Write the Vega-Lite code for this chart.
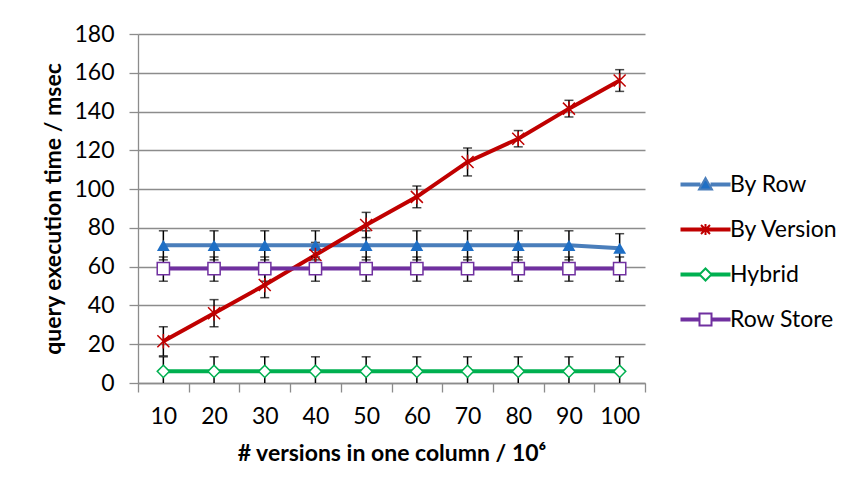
{
  "$schema": "https://vega.github.io/schema/vega-lite/v6.json",
  "width": 507,
  "height": 349,
  "autosize": {"type": "none"},
  "padding": {"left": 138, "top": 34, "right": 209, "bottom": 113},
  "background": "white",
  "config": {
    "view": {"stroke": null},
    "font": "Lato",
    "axis": {"labelFont": "Lato", "titleFont": "Lato", "labelColor": "#000", "titleColor": "#000"}
  },
  "data": {"values": [
    {"series": "By Row", "x": 10, "y": 71, "lo": 63.5, "hi": 78.5},
    {"series": "By Row", "x": 20, "y": 71, "lo": 63.5, "hi": 78.5},
    {"series": "By Row", "x": 30, "y": 71, "lo": 63.5, "hi": 78.5},
    {"series": "By Row", "x": 40, "y": 71, "lo": 63.5, "hi": 78.5},
    {"series": "By Row", "x": 50, "y": 71, "lo": 63.5, "hi": 78.5},
    {"series": "By Row", "x": 60, "y": 71, "lo": 63.5, "hi": 78.5},
    {"series": "By Row", "x": 70, "y": 71, "lo": 63.5, "hi": 78.5},
    {"series": "By Row", "x": 80, "y": 71, "lo": 63.5, "hi": 78.5},
    {"series": "By Row", "x": 90, "y": 71, "lo": 63.5, "hi": 78.5},
    {"series": "By Row", "x": 100, "y": 69.5, "lo": 62, "hi": 77},
    {"series": "By Version", "x": 10, "y": 21.5, "lo": 14, "hi": 29},
    {"series": "By Version", "x": 20, "y": 36, "lo": 29, "hi": 43},
    {"series": "By Version", "x": 30, "y": 50.5, "lo": 44, "hi": 57},
    {"series": "By Version", "x": 40, "y": 66, "lo": 59.5, "hi": 72.5},
    {"series": "By Version", "x": 50, "y": 81.5, "lo": 75, "hi": 88},
    {"series": "By Version", "x": 60, "y": 96, "lo": 90.4, "hi": 101.6},
    {"series": "By Version", "x": 70, "y": 114, "lo": 106.8, "hi": 121.2},
    {"series": "By Version", "x": 80, "y": 126, "lo": 121.8, "hi": 130.2},
    {"series": "By Version", "x": 90, "y": 141.5, "lo": 137.2, "hi": 145.8},
    {"series": "By Version", "x": 100, "y": 156, "lo": 150.4, "hi": 161.6},
    {"series": "Hybrid", "x": 10, "y": 6, "lo": -1.5, "hi": 13.5},
    {"series": "Hybrid", "x": 20, "y": 6, "lo": -1.5, "hi": 13.5},
    {"series": "Hybrid", "x": 30, "y": 6, "lo": -1.5, "hi": 13.5},
    {"series": "Hybrid", "x": 40, "y": 6, "lo": -1.5, "hi": 13.5},
    {"series": "Hybrid", "x": 50, "y": 6, "lo": -1.5, "hi": 13.5},
    {"series": "Hybrid", "x": 60, "y": 6, "lo": -1.5, "hi": 13.5},
    {"series": "Hybrid", "x": 70, "y": 6, "lo": -1.5, "hi": 13.5},
    {"series": "Hybrid", "x": 80, "y": 6, "lo": -1.5, "hi": 13.5},
    {"series": "Hybrid", "x": 90, "y": 6, "lo": -1.5, "hi": 13.5},
    {"series": "Hybrid", "x": 100, "y": 6, "lo": -1.5, "hi": 13.5},
    {"series": "Row Store", "x": 10, "y": 59, "lo": 52.5, "hi": 65},
    {"series": "Row Store", "x": 20, "y": 59, "lo": 52.5, "hi": 65},
    {"series": "Row Store", "x": 30, "y": 59, "lo": 52.5, "hi": 65},
    {"series": "Row Store", "x": 40, "y": 59, "lo": 52.5, "hi": 65},
    {"series": "Row Store", "x": 50, "y": 59, "lo": 52.5, "hi": 65},
    {"series": "Row Store", "x": 60, "y": 59, "lo": 52.5, "hi": 65},
    {"series": "Row Store", "x": 70, "y": 59, "lo": 52.5, "hi": 65},
    {"series": "Row Store", "x": 80, "y": 59, "lo": 52.5, "hi": 65},
    {"series": "Row Store", "x": 90, "y": 59, "lo": 52.5, "hi": 65},
    {"series": "Row Store", "x": 100, "y": 59, "lo": 52.5, "hi": 65}
  ]},
  "encoding": {
    "x": {
      "field": "x", "type": "quantitative",
      "scale": {"domain": [5, 105], "nice": false, "zero": false},
      "axis": {
        "values": [5, 10, 15, 20, 25, 30, 35, 40, 45, 50, 55, 60, 65, 70, 75, 80, 85, 90, 95, 100, 105],
        "labelExpr": "datum.value % 10 === 0 ? datum.label : ''",
        "tickOpacity": {"condition": {"test": "datum.value % 10 === 5", "value": 1}, "value": 0},
        "grid": false,
        "domainColor": "#8c8c8c", "domainWidth": 1.3,
        "tickColor": "#8c8c8c", "tickWidth": 1.3, "tickSize": 9,
        "labelFontSize": 23, "labelPadding": 13, "labelFlush": false,
        "title": "# versions in one column / 10⁶",
        "titleFontSize": 23, "titleFontWeight": "bold", "titlePadding": 14
      }
    },
    "y": {
      "field": "y", "type": "quantitative",
      "scale": {"domain": [0, 180], "nice": false},
      "axis": {
        "values": [0, 20, 40, 60, 80, 100, 120, 140, 160, 180],
        "grid": true, "gridColor": "#8c8c8c", "gridWidth": 1.3,
        "domainColor": "#8c8c8c", "domainWidth": 1.3,
        "tickColor": "#8c8c8c", "tickWidth": 1.3, "tickSize": 9,
        "labelFontSize": 23, "labelPadding": 15,
        "title": "query execution time / msec",
        "titleFontSize": 23, "titleFontWeight": "bold", "titlePadding": 8
      }
    }
  },
  "layer": [
    {
      "mark": {"type": "line", "strokeWidth": 4},
      "encoding": {
        "color": {
          "field": "series", "type": "nominal",
          "scale": {"domain": ["By Row", "By Version", "Hybrid", "Row Store"], "range": ["#4a7ebb", "#c00000", "#00b050", "#7030a0"]},
          "legend": {
            "title": null, "orient": "none", "legendX": 556, "legendY": 139,
            "symbolSize": 100, "symbolStrokeWidth": 2, "labelOffset": 13,
            "labelFontSize": 23, "labelFont": "Lato", "labelColor": "#000", "rowPadding": 21,
            "encode": {
              "symbols": {"update": {
                "shape": {"signal": "datum.value === 'By Row' ? 'M-4.8,-0.2H-1.2V0.2H-4.8Z M1.2,-0.2H4.8V0.2H1.2Z M0,-1.3L1.3,1L-1.3,1Z' : datum.value === 'By Version' ? 'M-4.8,-0.2H4.8V0.2H-4.8Z M-0.9,-0.9L0.9,0.9 M-0.9,0.9L0.9,-0.9 M0,-1.1V1.1' : datum.value === 'Hybrid' ? 'M-4.8,-0.2H-1.2V0.2H-4.8Z M1.2,-0.2H4.8V0.2H1.2Z M0,-1.2L1.2,0L0,1.2L-1.2,0Z' : 'M-4.8,-0.2H-1.2V0.2H-4.8Z M1.2,-0.2H4.8V0.2H1.2Z M-1.2,-1.2H1.2V1.2H-1.2Z'"},
                "fill": {"signal": "datum.value === 'By Row' ? '#1f6fc5' : datum.value === 'By Version' ? '#c00000' : 'white'"},
                "stroke": {"signal": "datum.value === 'By Row' ? '#4a7ebb' : datum.value === 'By Version' ? '#c00000' : datum.value === 'Hybrid' ? '#00b050' : '#7030a0'"},
                "fillOpacity": {"value": 1},
                "strokeWidth": {"value": 2}
              }}
            }
          }
        }
      }
    },
    {
      "mark": {"type": "rule", "color": "black", "strokeWidth": 1.5, "clip": true},
      "encoding": {"y": {"field": "lo", "type": "quantitative"}, "y2": {"field": "hi"}}
    },
    {
      "mark": {"type": "tick", "orient": "horizontal", "color": "black", "thickness": 1.5, "size": 9, "clip": true},
      "encoding": {"y": {"field": "lo", "type": "quantitative"}}
    },
    {
      "mark": {"type": "tick", "orient": "horizontal", "color": "black", "thickness": 1.5, "size": 9},
      "encoding": {"y": {"field": "hi", "type": "quantitative"}}
    },
    {
      "transform": [{"filter": "datum.series === 'By Row'"}],
      "mark": {"type": "point", "shape": "triangle-up", "filled": true, "color": "#1f6fc5", "size": 165, "opacity": 1}
    },
    {
      "transform": [{"filter": "datum.series === 'By Version'"}],
      "mark": {"type": "point", "shape": "M-1,-1L1,1M-1,1L1,-1M0,-1.2V1.2", "filled": false, "stroke": "#c00000", "strokeWidth": 1.5, "size": 144, "opacity": 1}
    },
    {
      "transform": [{"filter": "datum.series === 'Hybrid'"}],
      "mark": {"type": "point", "shape": "diamond", "filled": true, "fill": "white", "stroke": "#00b050", "strokeWidth": 1.5, "size": 150, "opacity": 1}
    },
    {
      "transform": [{"filter": "datum.series === 'Row Store'"}],
      "mark": {"type": "point", "shape": "square", "filled": true, "fill": "white", "stroke": "#7030a0", "strokeWidth": 1.5, "size": 150, "opacity": 1}
    }
  ]
}
